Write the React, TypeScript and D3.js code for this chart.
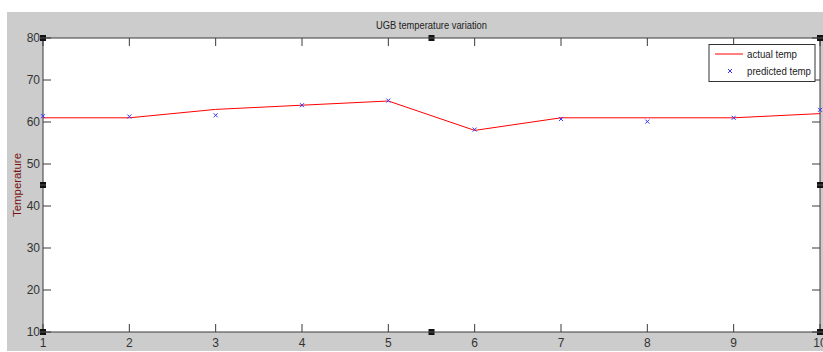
import React from "react";
import * as d3 from "d3";

const xValues = [1, 2, 3, 4, 5, 6, 7, 8, 9, 10];
const actualTemp = [61, 61, 63, 64, 65, 58, 61, 61, 61, 62];
const predictedTemp = [61.4, 61.3, 61.6, 64, 65.1, 58.2, 60.7, 60.1, 61, 62.9];
const yTicks = [10, 20, 30, 40, 50, 60, 70, 80];
const xTicks = [1, 2, 3, 4, 5, 6, 7, 8, 9, 10];
const titleText = "UGB temperature variation";
const yLabelText = "Temperature";
const legendLabels = ["actual temp", "predicted temp"];

const W = 823;
const H = 352;
const L = 43, R = 820, T = 38, B = 332;

export default function App() {
  const x = d3.scaleLinear().domain([1, 10]).range([L, R]);
  const y = d3.scaleLinear().domain([10, 80]).range([B, T]);
  const line = d3
    .line<number>()
    .x((_, i) => x(xValues[i]))
    .y((d) => y(d));
  const font = "'Liberation Sans', Arial, sans-serif";
  const axisCol = "#3a3a3a";
  const tl = 8;
  const cx = (L + R) / 2;
  const cy = (T + B) / 2;
  const handles = [
    [L, T], [cx, T], [R, T],
    [L, cy], [R, cy],
    [L, B], [cx, B], [R, B],
  ];
  return (
    <svg width={W} height={H} style={{ position: "absolute", left: 0, top: 0 }}>
      <rect x={0} y={0} width={W} height={H} fill="#fff" />
      <rect x={7} y={12} width={W - 7} height={339} fill="#cccccc" />
      <rect x={L} y={T} width={R - L} height={B - T} fill="#fff" />
      <text x={cx} y={29} textAnchor="middle" fontFamily={font} fontSize={11} fill="#222"
        textLength={111} lengthAdjust="spacingAndGlyphs">
        {titleText}
      </text>
      <text
        transform={`translate(21,${cy}) rotate(-90)`}
        textAnchor="middle"
        fontFamily={font}
        fontSize={11}
        fill="#7a1010"
        textLength={64}
        lengthAdjust="spacingAndGlyphs"
      >
        {yLabelText}
      </text>
      {/* ticks */}
      {xTicks.map((t) => (
        <g key={"x" + t}>
          <line x1={x(t)} x2={x(t)} y1={B} y2={B - tl} stroke={axisCol} />
          <line x1={x(t)} x2={x(t)} y1={T} y2={T + tl} stroke={axisCol} />
          <text x={x(t)} y={347} textAnchor="middle" fontFamily={font} fontSize={12} fill="#333">
            {t}
          </text>
        </g>
      ))}
      {yTicks.map((t) => (
        <g key={"y" + t}>
          <line x1={L} x2={L + tl} y1={y(t)} y2={y(t)} stroke={axisCol} />
          <line x1={R} x2={R - tl} y1={y(t)} y2={y(t)} stroke={axisCol} />
          <text x={40} y={y(t) + 4} textAnchor="end" fontFamily={font} fontSize={12} fill="#333">
            {t}
          </text>
        </g>
      ))}
      <rect x={L} y={T} width={R - L} height={B - T} fill="none" stroke={axisCol} strokeWidth={1} />
      {/* data */}
      <path d={line(actualTemp) || ""} fill="none" stroke="#ff0000" strokeWidth={1} />
      {predictedTemp.map((v, i) => {
        const px = x(xValues[i]);
        const py = y(v);
        const s = 2;
        return (
          <g key={"p" + i} stroke="#3333ff" strokeWidth={1}>
            <line x1={px - s} x2={px + s} y1={py - s} y2={py + s} />
            <line x1={px - s} x2={px + s} y1={py + s} y2={py - s} />
          </g>
        );
      })}
      {/* legend */}
      <g>
        <rect x={709} y={44.5} width={106} height={37} fill="#fff" stroke="#333" />
        <line x1={715} x2={743} y1={54} y2={54} stroke="#ff0000" />
        <text x={747} y={58} fontFamily={font} fontSize={11} fill="#222"
          textLength={50} lengthAdjust="spacingAndGlyphs">
          {legendLabels[0]}
        </text>
        <g stroke="#3333ff">
          <line x1={728} x2={732} y1={69} y2={73} />
          <line x1={728} x2={732} y1={73} y2={69} />
        </g>
        <text x={747} y={75} fontFamily={font} fontSize={11} fill="#222"
          textLength={64} lengthAdjust="spacingAndGlyphs">
          {legendLabels[1]}
        </text>
      </g>
      {/* selection handles */}
      {handles.map(([hx, hy], i) => (
        <g key={"h" + i}>
          <rect x={hx - 3} y={hy - 3} width={6} height={6} fill="#111" />
          <line x1={hx - 3} x2={hx + 3} y1={hy} y2={hy} stroke="#888" strokeWidth={0.6} />
        </g>
      ))}
    </svg>
  );
}
